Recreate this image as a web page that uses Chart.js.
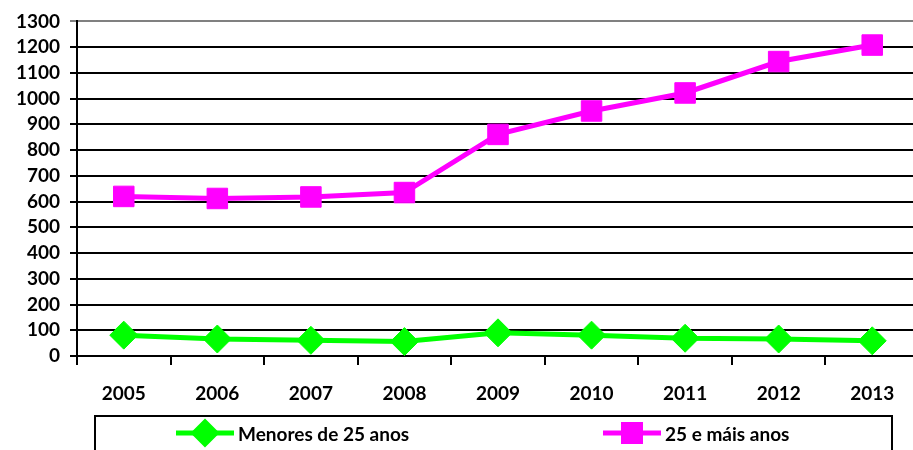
<!DOCTYPE html>
<html>
<head>
<meta charset="utf-8">
<script src="https://cdn.jsdelivr.net/npm/chart.js@4/dist/chart.umd.min.js"></script>
<style>
    html, body { margin: 0; padding: 0; background: #fff; overflow: hidden; }
    canvas { display: block; }
</style>
</head>
<body>
<canvas id="myChart" width="919" height="450"></canvas>
<script>
// years on the x axis
const years = ['2005', '2006', '2007', '2008', '2009', '2010', '2011', '2012', '2013'];

// values per age group
const under25 = [81, 66, 61, 56, 90, 81, 69, 66, 59];
const over25 = [620, 612, 618, 635, 861, 952, 1022, 1144, 1208];

const seriesLabels = ['Menores de 25 anos', '25 e máis anos'];

const FONT = 'Lato, "DejaVu Sans", sans-serif';

// legend drawn as a framed box under the axis, like a spreadsheet chart
const boxedLegend = {
    id: 'boxedLegend',
    afterDraw(chart) {
        const ctx = chart.ctx;
        const itemX = [176, 603]; // start of each legend entry
        const y = 433;
        ctx.save();
        ctx.strokeStyle = '#000';
        ctx.lineWidth = 2;
        ctx.strokeRect(95, 416, 797, 60);

        chart.data.datasets.forEach((ds, i) => {
            const x = itemX[i];
            ctx.strokeStyle = ds.borderColor;
            ctx.lineWidth = 5;
            ctx.beginPath();
            ctx.moveTo(x, y);
            ctx.lineTo(x + 58, y);
            ctx.stroke();

            ctx.fillStyle = ds.backgroundColor;
            ctx.strokeStyle = ds.borderColor;
            Chart.helpers.drawPoint(ctx, {
                pointStyle: ds.pointStyle,
                radius: ds.pointStyle === 'rect' ? 12 : 11,
                rotation: 0,
                borderWidth: 1,
            }, x + 29, y);

            ctx.fillStyle = '#000';
            ctx.font = 'bold 19px ' + FONT;
            ctx.textBaseline = 'middle';
            ctx.textAlign = 'left';
            ctx.fillText(ds.label, x + 62, y + 2);
        });
        ctx.restore();
    }
};

const ctx = document.getElementById('myChart').getContext('2d');

const myChart = new Chart(ctx, {
    type: 'line',
    data: {
        labels: years,
        datasets: [{
            label: seriesLabels[0],
            data: under25,
            borderColor: '#00ff00',
            backgroundColor: '#00ff00',
            borderWidth: 5,
            pointStyle: 'rectRot',
            pointRadius: 14,
            pointBorderWidth: 1,
            tension: 0,
        }, {
            label: seriesLabels[1],
            data: over25,
            borderColor: '#ff00ff',
            backgroundColor: '#ff00ff',
            borderWidth: 5,
            pointStyle: 'rect',
            pointRadius: 14.5,
            pointBorderWidth: 1,
            tension: 0,
        }]
    },
    options: {
        responsive: false,
        animation: false,
        layout: {
            autoPadding: false,
            padding: { top: 21, right: 0, bottom: 34, left: 0 }
        },
        plugins: {
            legend: { display: false },
            tooltip: { enabled: false },
        },
        scales: {
            y: {
                min: 0,
                max: 1300,
                afterFit: (scale) => { scale.width = 77; },
                ticks: {
                    stepSize: 100,
                    autoSkip: false,
                    color: '#000',
                    padding: 10,
                    callback: (value) => String(value),
                    font: { family: FONT, size: 19, weight: 'bold' },
                },
                grid: {
                    color: (c) => (c.tick && c.tick.value === 1300 ? '#808080' : '#000'),
                    lineWidth: 2,
                    tickLength: 7,
                },
                border: { color: '#000', width: 2 },
            },
            x: {
                offset: true,
                afterFit: (scale) => {
                    scale.height = 60;
                    scale.paddingLeft = 0;
                    scale.paddingRight = 0;
                },
                ticks: {
                    autoSkip: false,
                    maxRotation: 0,
                    color: '#000',
                    padding: 17,
                    font: { family: FONT, size: 19, weight: 'bold' },
                },
                grid: {
                    offset: true,
                    drawOnChartArea: false,
                    color: '#000',
                    lineWidth: 2,
                    tickLength: 9,
                },
                border: { color: '#000', width: 2 },
            }
        }
    },
    plugins: [boxedLegend]
});
</script>
</body>
</html>
